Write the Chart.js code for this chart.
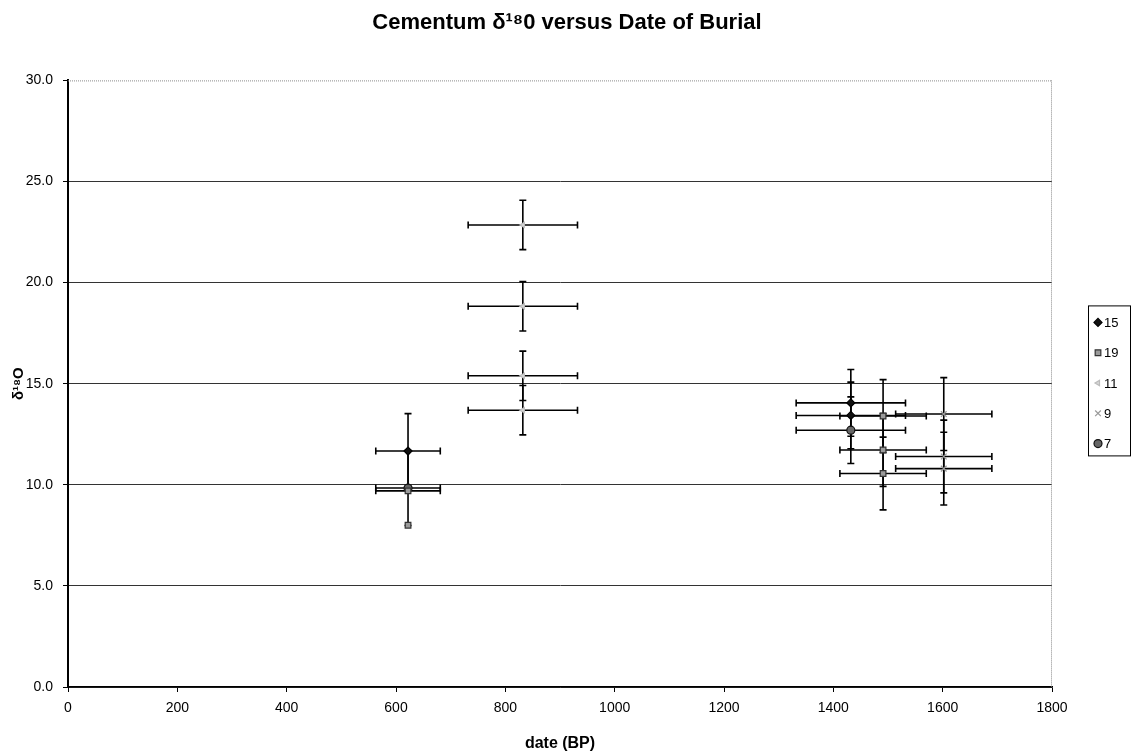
<!DOCTYPE html>
<html>
<head>
<meta charset="utf-8">
<script src="https://cdn.jsdelivr.net/npm/chart.js@4/dist/chart.umd.min.js"></script>
<style>
html,body{margin:0;padding:0;background:#fff;}
#wrap{width:1134px;height:753px;position:relative;}
</style>
</head>
<body>
<div id="wrap"><canvas id="c" width="1134" height="753"></canvas></div>
<script>
// ---- data ----
const chartTitle = 'Cementum δ¹⁸0 versus Date of Burial';
const xTitle = 'date (BP)';
const yTitle = 'δ¹⁸O';
const seriesNames = ['15', '19', '11', '9', '7'];

const s15X = [622, 1432, 1432];
const s15Y = [11.67, 14.05, 13.43];
const s15XErr = [59, 100, 100];
const s15YErr = [1.85, 1.65, 1.65];

const s19X = [622, 622, 1491, 1491, 1491];
const s19Y = [9.70, 8.00, 13.40, 11.72, 10.56];
const s19XErr = [59, 0, 79, 79, 79];
const s19YErr = [0, 0, 1.8, 1.8, 1.8];

const s11X = [832, 832, 832, 832];
const s11Y = [22.85, 18.83, 15.39, 13.69];
const s11XErr = [100, 100, 100, 100];
const s11YErr = [1.22, 1.22, 1.22, 1.22];

const s9X = [1602, 1602, 1602];
const s9Y = [13.5, 11.4, 10.8];
const s9XErr = [88, 88, 88];
const s9YErr = [1.8, 1.8, 1.8];

const s7X = [622, 1432];
const s7Y = [9.84, 12.70];
const s7XErr = [59, 100];
const s7YErr = [1.85, 1.65];

const xTicks = [0, 200, 400, 600, 800, 1000, 1200, 1400, 1600, 1800];
const yTicks = [0, 5, 10, 15, 20, 25, 30];

// ---- chart ----
const FONT = "'Liberation Sans', Arial, Helvetica, sans-serif";
function pts(xs, ys) { return xs.map((x, i) => ({ x: x, y: ys[i] })); }

const styles = [
  { pointStyle: 'rectRot', radius: 4, bg: '#111', border: '#000', rotation: 0 },
  { pointStyle: 'rect', radius: 4, bg: '#9a9a9a', border: '#333', rotation: 0 },
  { pointStyle: 'triangle', radius: 3, bg: '#d8d8d8', border: '#bbb', rotation: -90 },
  { pointStyle: 'crossRot', radius: 4, bg: '#aaa', border: '#999', rotation: 0 },
  { pointStyle: 'circle', radius: 4, bg: '#666', border: '#111', rotation: 0 }
];
const sets = [
  [s15X, s15Y, s15XErr, s15YErr],
  [s19X, s19Y, s19XErr, s19YErr],
  [s11X, s11Y, s11XErr, s11YErr],
  [s9X, s9Y, s9XErr, s9YErr],
  [s7X, s7Y, s7XErr, s7YErr]
];

const datasets = sets.map((s, k) => ({
  label: seriesNames[k],
  data: pts(s[0], s[1]),
  xErr: s[2],
  yErr: s[3],
  showLine: false,
  pointStyle: styles[k].pointStyle,
  pointRadius: styles[k].radius,
  pointRotation: styles[k].rotation,
  pointBackgroundColor: styles[k].bg,
  pointBorderColor: styles[k].border,
  pointBorderWidth: 1.2,
  pointHoverRadius: styles[k].radius
}));

const errorBars = {
  id: 'errorBars',
  beforeDatasetsDraw(chart) {
    const ctx = chart.ctx, xs = chart.scales.x, ys = chart.scales.y;
    const cap = 3.5;
    ctx.save();
    ctx.strokeStyle = '#000';
    ctx.lineWidth = 1.6;
    chart.data.datasets.forEach(ds => {
      ds.data.forEach((p, i) => {
        const xe = ds.xErr[i], ye = ds.yErr[i];
        const px = xs.getPixelForValue(p.x), py = ys.getPixelForValue(p.y);
        ctx.beginPath();
        if (xe > 0) {
          const l = xs.getPixelForValue(p.x - xe), r = xs.getPixelForValue(p.x + xe);
          ctx.moveTo(l, py); ctx.lineTo(r, py);
          ctx.moveTo(l, py - cap); ctx.lineTo(l, py + cap);
          ctx.moveTo(r, py - cap); ctx.lineTo(r, py + cap);
        }
        if (ye > 0) {
          const t = ys.getPixelForValue(p.y + ye), b = ys.getPixelForValue(p.y - ye);
          ctx.moveTo(px, t); ctx.lineTo(px, b);
          ctx.moveTo(px - cap, t); ctx.lineTo(px + cap, t);
          ctx.moveTo(px - cap, b); ctx.lineTo(px + cap, b);
        }
        ctx.stroke();
      });
    });
    ctx.restore();
  }
};

const frame = {
  id: 'frame',
  beforeDatasetsDraw(chart) {
    const ctx = chart.ctx, a = chart.chartArea;
    ctx.save();
    ctx.strokeStyle = '#8a8a8a';
    ctx.lineWidth = 1;
    ctx.setLineDash([1, 1]);
    ctx.beginPath();
    ctx.moveTo(a.left, a.top + 0.5); ctx.lineTo(a.right, a.top + 0.5);
    ctx.moveTo(a.right - 0.5, a.top); ctx.lineTo(a.right - 0.5, a.bottom);
    ctx.stroke();
    ctx.restore();
  },
  afterDraw(chart) {
    const ctx = chart.ctx, a = chart.chartArea, ys = chart.scales.y;
    // y-axis title
    ctx.save();
    ctx.fillStyle = '#000';
    ctx.font = 'bold 15px ' + FONT;
    ctx.textAlign = 'center';
    ctx.textBaseline = 'middle';
    ctx.translate(19, ys.getPixelForValue(15));
    ctx.rotate(-Math.PI / 2);
    ctx.fillText(yTitle, 0, 0);
    ctx.restore();

    // legend
    const lx = a.right + 36, ly = a.top + 225, lw = 42, lh = 150;
    ctx.save();
    ctx.fillStyle = '#fff';
    ctx.fillRect(lx, ly, lw, lh);
    ctx.strokeStyle = '#000';
    ctx.lineWidth = 1;
    ctx.strokeRect(lx + 0.5, ly + 0.5, lw, lh);
    chart.data.datasets.forEach((ds, k) => {
      const cy = ly + 17 + k * 30.3;
      const cx = lx + 10;
      ctx.save();
      ctx.fillStyle = styles[k].bg;
      ctx.strokeStyle = styles[k].border;
      ctx.lineWidth = 1.2;
      if (Chart.helpers && Chart.helpers.drawPoint) {
        Chart.helpers.drawPoint(ctx, { pointStyle: styles[k].pointStyle, radius: styles[k].radius, rotation: styles[k].rotation, borderWidth: 1.2 }, cx, cy);
      } else {
        ctx.beginPath(); ctx.arc(cx, cy, 3.5, 0, Math.PI * 2); ctx.fill(); ctx.stroke();
      }
      ctx.restore();
      ctx.fillStyle = '#000';
      ctx.font = '13px ' + FONT;
      ctx.textAlign = 'left';
      ctx.textBaseline = 'middle';
      ctx.fillText(ds.label, cx + 6, cy + 1);
    });
    ctx.restore();
  }
};

new Chart(document.getElementById('c'), {
  type: 'scatter',
  data: { datasets: datasets },
  plugins: [errorBars, frame],
  options: {
    responsive: false,
    animation: false,
    devicePixelRatio: 1,
    layout: { padding: { left: 0, right: 0, top: 0, bottom: 0 } },
    plugins: {
      legend: { display: false },
      tooltip: { enabled: false },
      title: {
        display: true,
        text: chartTitle,
        color: '#000',
        font: { family: FONT, size: 22, weight: 'bold' },
        padding: { top: 10, bottom: 44 }
      }
    },
    scales: {
      x: {
        type: 'linear',
        min: xTicks[0],
        max: xTicks[xTicks.length - 1],
        afterBuildTicks(s) { s.ticks = xTicks.map(v => ({ value: v })); },
        ticks: { color: '#000', font: { family: FONT, size: 14 }, padding: 8, maxRotation: 0, autoSkip: false, callback: v => String(v) },
        grid: { drawOnChartArea: false, drawTicks: true, tickLength: 5, color: '#000' },
        border: { color: '#000', width: 1.5 },
        title: { display: true, text: xTitle, color: '#000', font: { family: FONT, size: 16, weight: 'bold' }, padding: { top: 4, bottom: 0 } },
        afterFit(s) { s.height = 66; }
      },
      y: {
        type: 'linear',
        min: yTicks[0],
        max: yTicks[yTicks.length - 1],
        afterBuildTicks(s) { s.ticks = yTicks.map(v => ({ value: v })); },
        ticks: { color: '#000', font: { family: FONT, size: 14 }, padding: 10, callback: v => Number(v).toFixed(1) },
        grid: {
          color: c => (c.tick && c.tick.value === 30) ? 'rgba(0,0,0,0)' : '#333',
          tickColor: '#000',
          tickLength: 5,
          lineWidth: 1
        },
        border: { color: '#000', width: 2 },
        afterFit(s) { s.width = 68; }
      },
      legendSpace: {
        type: 'linear',
        position: 'right',
        display: true,
        ticks: { display: false },
        grid: { display: false, drawTicks: false },
        border: { display: false },
        afterFit(s) { s.width = 82; }
      }
    }
  }
});
</script>
</body>
</html>
